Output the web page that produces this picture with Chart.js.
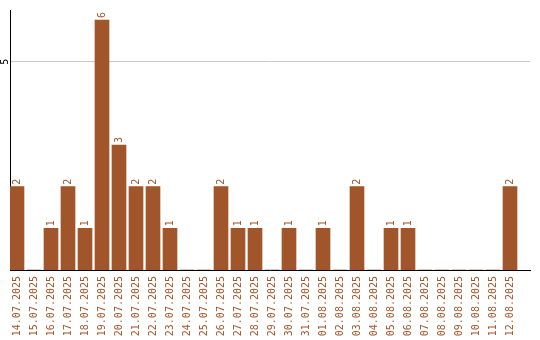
<!DOCTYPE html>
<html>
<head>
<meta charset="utf-8">
<script src="https://cdn.jsdelivr.net/npm/chart.js@4/dist/chart.umd.min.js"></script>
<style>
  html, body { margin: 0; padding: 0; background: #fff; }
  #wrap { width: 540px; height: 340px; }
</style>
</head>
<body>
<div id="wrap"><canvas id="chart" width="540" height="340"></canvas></div>
<script>
const dates = [
  "14.07.2025", "15.07.2025", "16.07.2025", "17.07.2025", "18.07.2025",
  "19.07.2025", "20.07.2025", "21.07.2025", "22.07.2025", "23.07.2025",
  "24.07.2025", "25.07.2025", "26.07.2025", "27.07.2025", "28.07.2025",
  "29.07.2025", "30.07.2025", "31.07.2025", "01.08.2025", "02.08.2025",
  "03.08.2025", "04.08.2025", "05.08.2025", "06.08.2025", "07.08.2025",
  "08.08.2025", "09.08.2025", "10.08.2025", "11.08.2025", "12.08.2025"
];
const counts = [2, 0, 1, 2, 1, 6, 3, 2, 2, 1, 0, 0, 2, 1, 1, 0, 1, 0, 1, 0, 2, 0, 1, 1, 0, 0, 0, 0, 0, 2];
const yTicks = [5];

const brown = "#a0552a";
const font = { family: "DejaVu Sans Mono", size: 10 };

// value labels drawn above each bar, rotated like the axis labels
const barValues = {
  id: "barValues",
  afterDatasetsDraw(chart) {
    const ctx = chart.ctx;
    const meta = chart.getDatasetMeta(0);
    ctx.save();
    ctx.fillStyle = brown;
    ctx.font = "10px 'DejaVu Sans Mono'";
    ctx.textAlign = "left";
    ctx.textBaseline = "middle";
    meta.data.forEach((bar, i) => {
      if (!counts[i]) return;
      ctx.save();
      ctx.translate(bar.x, bar.y - 2);
      ctx.rotate(-Math.PI / 2);
      ctx.fillText(String(counts[i]), 0, 0);
      ctx.restore();
    });
    ctx.restore();
  }
};

const xMin = -7 / 17;
const xMax = xMin + 520 / 17;

new Chart(document.getElementById("chart"), {
  type: "bar",
  data: {
    datasets: [{
      data: counts.map((v, i) => ({ x: i, y: v })),
      backgroundColor: brown,
      borderWidth: 0,
      barThickness: 14
    }]
  },
  options: {
    responsive: false,
    animation: false,
    layout: { padding: { top: 10, right: 10, left: 0, bottom: 0 } },
    plugins: {
      legend: { display: false },
      tooltip: { enabled: false }
    },
    scales: {
      x: {
        type: "linear",
        offset: false,
        min: xMin,
        max: xMax,
        grid: { display: false, drawTicks: false },
        border: { display: true, color: "#000", width: 1 },
        afterBuildTicks: (s) => { s.ticks = dates.map((_, i) => ({ value: i })); },
        afterFit: (s) => { s.height = 70; },
        ticks: {
          autoSkip: false,
          minRotation: 90,
          maxRotation: 90,
          padding: 6,
          color: brown,
          font: font,
          callback: (v) => dates[v] || ""
        }
      },
      y: {
        min: 0,
        max: 6.24,
        grid: { color: "#c8c8c8", lineWidth: 1, drawTicks: false },
        border: { display: true, color: "#000", width: 1 },
        afterBuildTicks: (s) => { s.ticks = yTicks.map(v => ({ value: v })); },
        afterFit: (s) => { s.width = 10; },
        ticks: {
          minRotation: 90,
          maxRotation: 90,
          crossAlign: "center",
          padding: 2,
          color: "#000",
          font: font
        }
      }
    }
  },
  plugins: [barValues]
});
</script>
</body>
</html>
